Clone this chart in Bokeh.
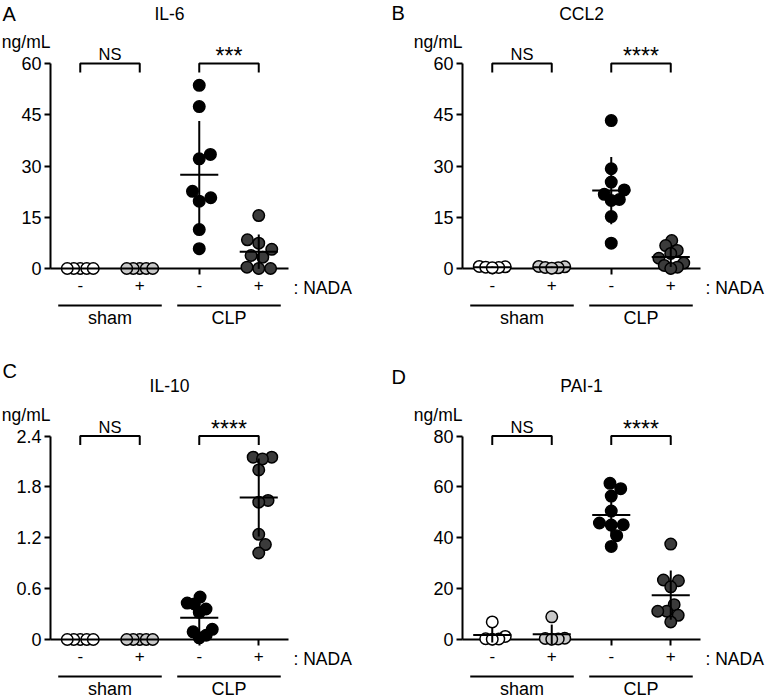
import math
import numpy as np
from bokeh.plotting import figure
from bokeh.models import LinearAxis, FixedTicker, Range1d, Label
from bokeh.layouts import column, row
from bokeh.embed import file_html
from bokeh.resources import INLINE

# ---------------- data ----------------
group_names = ["sham", "CLP"]
nada_labels = ["-", "+", "-", "+"]
nada_title = ": NADA"
unit_label = "ng/mL"

il6_ticks = [0, 15, 30, 45, 60]
il6_tick_labels = ["0", "15", "30", "45", "60"]
il6_sham_veh = [0.0, 0.0, 0.0, 0.0, 0.0]
il6_sham_nada = [0.0, 0.0, 0.0, 0.0, 0.0]
il6_clp_veh = [53.6, 47.4, 33.4, 32.1, 22.6, 20.7, 19.7, 11.4, 5.8]
il6_clp_nada = [15.5, 8.4, 7.4, 5.6, 3.8, 3.3, 0.4, 0.0, 0.0]
il6_sig = ["NS", "***"]

ccl2_ticks = [0, 15, 30, 45, 60]
ccl2_tick_labels = ["0", "15", "30", "45", "60"]
ccl2_sham_veh = [0.6, 0.5, 0.4, 0.3, 0.2]
ccl2_sham_nada = [0.6, 0.5, 0.3, 0.2, 0.1]
ccl2_clp_veh = [43.3, 29.2, 25.3, 23.0, 21.7, 20.2, 19.9, 15.2, 7.4]
ccl2_clp_nada = [8.2, 6.7, 5.3, 4.4, 3.0, 1.6, 0.9, 0.4, 0.0]
ccl2_sig = ["NS", "****"]

il10_ticks = [0, 0.6, 1.2, 1.8, 2.4]
il10_tick_labels = ["0", "0.6", "1.2", "1.8", "2.4"]
il10_sham_veh = [0.0, 0.0, 0.0, 0.0, 0.0]
il10_sham_nada = [0.0, 0.0, 0.0, 0.0, 0.0]
il10_clp_veh = [0.50, 0.43, 0.42, 0.36, 0.32, 0.12, 0.09, 0.05, 0.02]
il10_clp_nada = [2.15, 2.15, 2.13, 2.00, 1.64, 1.62, 1.24, 1.12, 1.02]
il10_sig = ["NS", "****"]

pai1_ticks = [0, 20, 40, 60, 80]
pai1_tick_labels = ["0", "20", "40", "60", "80"]
pai1_sham_veh = [6.9, 1.2, 0.3, 0.2, 0.1]
pai1_sham_nada = [8.9, 0.5, 0.4, 0.2, 0.1]
pai1_clp_veh = [61.4, 59.3, 56.4, 50.5, 45.8, 45.1, 45.0, 40.8, 36.6]
pai1_clp_nada = [37.5, 23.4, 23.1, 20.7, 13.7, 11.1, 11.1, 9.5, 6.9]
pai1_sig = ["NS", "****"]

# ---------------- styling ----------------
FILLS = ["white", "#c8c8c8", "black", "#3b3b3b"]
FONT = "Liberation Sans"
W, H = 383, 350
SP = 59.5          # px per category
DOT = 11.5


def swarm(px_vals, d=12.0, cap=13.0):
    """simple beeswarm in pixel space; returns horizontal pixel offsets"""
    order = np.argsort(px_vals, kind="stable")
    placed = []
    offs = np.zeros(len(px_vals))
    for i in order:
        y = px_vals[i]
        cands = [0.0]
        for (px, py) in placed:
            ddy = y - py
            if abs(ddy) < d:
                ddx = math.sqrt(d * d - ddy * ddy)
                cands += [px + ddx, px - ddx]
        ok = [c for c in cands
              if all((c - px) ** 2 + (y - py) ** 2 >= d * d - 1e-6 for px, py in placed)]
        best = min(ok, key=lambda c: (round(abs(c), 6), -c))
        offs[i] = best
        placed.append((best, y))
    m = np.max(np.abs(offs))
    if m > cap:
        offs = offs * cap / m
    return offs


def txt(p, x, y, text, size, align="center", font=FONT):
    p.add_layout(Label(x=x, y=y, text=text, text_align=align, text_baseline="middle",
                       text_font=font, text_font_size=size, text_color="#000000"))


def build(letter, title, ticks, tick_labels, series, sig,
          ax_px, top_px, zero_px, letter_x, letter_dy):
    ymax = ticks[-1]
    pxy = (zero_px - top_px) / ymax
    x0 = 0.5 - ax_px / SP
    x1 = x0 + W / SP
    y1 = ymax + top_px / pxy
    y0 = y1 - H / pxy

    def dy(px):
        return px / pxy

    def dx(px):
        return px / SP

    p = figure(width=W, height=H, x_range=Range1d(x0, x1), y_range=Range1d(y0, y1),
               x_axis_type=None, y_axis_type=None, toolbar_location=None,
               output_backend="svg", min_border_left=0, min_border_right=0,
               min_border_top=0, min_border_bottom=0, min_border=0,
               outline_line_color=None, background_fill_color="white",
               border_fill_color="white")

    # axes
    ya = LinearAxis(fixed_location=0.5, ticker=FixedTicker(ticks=ticks), bounds=(0, ymax),
                    major_label_overrides={t: l for t, l in zip(ticks, tick_labels)},
                    axis_line_width=2, axis_line_color="black",
                    major_tick_line_width=2, major_tick_line_color="black",
                    major_tick_out=6, major_tick_in=0, minor_tick_out=0, minor_tick_in=0,
                    major_label_standoff=3, major_label_text_font=FONT,
                    major_label_text_font_size="18px", major_label_text_color="black")
    p.add_layout(ya, "left")
    cats = [1, 2, 3, 4]
    xa = LinearAxis(fixed_location=0, ticker=FixedTicker(ticks=cats), bounds=(0.5, 4.5),
                    major_label_overrides={c: l for c, l in zip(cats, nada_labels)},
                    axis_line_color=None,
                    major_tick_line_width=2, major_tick_line_color="black",
                    major_tick_out=6, major_tick_in=0, minor_tick_out=0, minor_tick_in=0,
                    major_label_standoff=4, major_label_text_font=FONT,
                    major_label_text_font_size="17px", major_label_text_color="black")
    xa.level = "underlay"
    p.add_layout(xa, "below")

    # baseline (x axis line)
    p.segment(x0=[0.5], y0=[0], x1=[4.5], y1=[0], line_color="black", line_width=2)

    # points
    for c, vals, fill in zip(cats, series, FILLS):
        v = np.asarray(vals, dtype=float)
        offs = swarm(v * pxy) / SP
        p.scatter(x=c + offs, y=v, size=DOT, fill_color=fill, line_color="black",
                  line_width=1.5)
    # mean +- SD
    for c, vals in zip(cats, series):
        v = np.asarray(vals, dtype=float)
        m = float(v.mean())
        s = float(v.std(ddof=1))
        p.segment(x0=[c - 0.32], y0=[m], x1=[c + 0.32], y1=[m], line_color="black", line_width=2)
        if s > 0:
            p.segment(x0=[c], y0=[m - s], x1=[c], y1=[m + s], line_color="black", line_width=2)

    # brackets
    arm = dy(9)
    p.multi_line(xs=[[1, 1, 2, 2], [3, 3, 4, 4]],
                 ys=[[ymax - arm, ymax, ymax, ymax - arm]] * 2,
                 line_color="black", line_width=2)
    txt(p, 1.5, ymax + dy(9.5), sig[0], "16.5px")
    txt(p, 3.5, ymax + dy(7.5), sig[1], "23px")

    # group lines and labels
    gy = -dy(37)
    p.segment(x0=[1.5 - 0.87, 3.5 - 0.87], y0=[gy, gy], x1=[1.5 + 0.87, 3.5 + 0.87],
              y1=[gy, gy], line_color="black", line_width=2)
    for gx, g in zip([1.5, 3.5], group_names):
        txt(p, gx, -dy(49.5), g, "18px")
    txt(p, 4.5 + dx(5), -dy(19), nada_title, "17.5px", align="left")

    # title, unit, panel letter
    txt(p, 2.5, ymax + dy(50), title, "17.5px")
    txt(p, 0.5, ymax + dy(21.5), unit_label, "17.5px", align="right")
    txt(p, x0 + dx(letter_x), ymax + dy(letter_dy), letter, "20px", align="left")
    return p


pA = build("A", "IL-6", il6_ticks, il6_tick_labels,
           [il6_sham_veh, il6_sham_nada, il6_clp_veh, il6_clp_nada], il6_sig,
           50, 63, 268, 2, 50)
pB = build("B", "CCL2", ccl2_ticks, ccl2_tick_labels,
           [ccl2_sham_veh, ccl2_sham_nada, ccl2_clp_veh, ccl2_clp_nada], ccl2_sig,
           79, 63, 268, 8, 51)
pC = build("C", "IL-10", il10_ticks, il10_tick_labels,
           [il10_sham_veh, il10_sham_nada, il10_clp_veh, il10_clp_nada], il10_sig,
           50, 85.5, 289, 2, 65)
pD = build("D", "PAI-1", pai1_ticks, pai1_tick_labels,
           [pai1_sham_veh, pai1_sham_nada, pai1_clp_veh, pai1_clp_nada], pai1_sig,
           79, 85.5, 289, 8, 59)

layout = column(row(pA, pB), row(pC, pD))
open("out.html", "w").write(file_html(layout, INLINE))
